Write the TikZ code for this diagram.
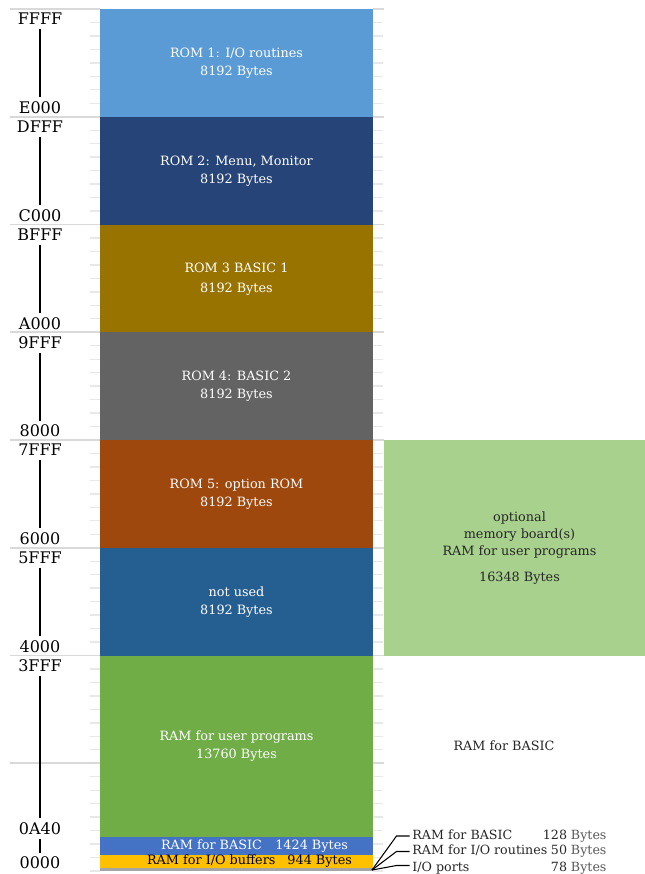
\documentclass[tikz,border=0pt]{standalone}
\usepackage{fontspec}
\setmainfont{DejaVu Serif}
\usetikzlibrary{calc}
\definecolor{romA}{HTML}{5B9BD5}
\definecolor{romB}{HTML}{264478}
\definecolor{romC}{HTML}{997300}
\definecolor{romD}{HTML}{636363}
\definecolor{romE}{HTML}{9E480E}
\definecolor{unused}{HTML}{255E91}
\definecolor{ramuser}{HTML}{70AD47}
\definecolor{rambasic}{HTML}{4472C4}
\definecolor{iobuf}{HTML}{FFC000}
\definecolor{optram}{HTML}{A9D18E}
\definecolor{iogray}{HTML}{A5A5A5}
\definecolor{gridmaj}{HTML}{D9D9D9}
\definecolor{gridmin}{HTML}{E8E8E8}
\definecolor{txtdark}{HTML}{262626}
\definecolor{txtgray}{HTML}{595959}
\tikzset{
  majline/.style={draw=gridmaj, line width=1.4pt},
  minline/.style={draw=gridmin, line width=1pt},
  blocktxt/.style={text=white, align=center, font=\fontsize{9.6}{13.5}\selectfont, inner sep=0pt},
  axl/.style={text=black, font=\fontsize{12}{12}\selectfont, inner sep=3pt},
  axline/.style={draw=black, line width=1.1pt},
  sidelbl/.style={text=txtdark, font=\fontsize{9.5}{12}\selectfont, text height=7pt, text depth=0pt, inner sep=2pt},
  leader/.style={draw=black, line width=0.8pt}
}
\begin{document}
\begin{tikzpicture}[x=0.75pt, y=-0.75pt]
\useasboundingbox (0,0) rectangle (645,874);
% grid: minor ticks
\foreach \i in {0,...,64} {
  \pgfmathsetmacro\yy{9+\i*13.46875}
  \draw[minline] (90,\yy) -- (100,\yy);
  \draw[minline] (373,\yy) -- (383,\yy);
}
% grid: major lines
\foreach \i in {0,...,7} {
  \pgfmathsetmacro\yy{9+\i*107.75}
  \draw[majline] (10,\yy) -- (100,\yy);
  \draw[majline] (373,\yy) -- (384,\yy);
}
% memory blocks
\fill[romA] (100,9) rectangle (373,116.75);
\fill[romB] (100,116.75) rectangle (373,224.5);
\fill[romC] (100,224.5) rectangle (373,332.25);
\fill[romD] (100,332.25) rectangle (373,440);
\fill[romE] (100,440) rectangle (373,547.75);
\fill[unused] (100,547.75) rectangle (373,655.5);
\fill[ramuser] (100,655.5) rectangle (373,836.5);
\fill[rambasic] (100,836.5) rectangle (373,855.3);
\fill[iobuf] (100,855.3) rectangle (373,867.6);
\fill[iogray] (100,867.6) rectangle (373,871);
\fill[optram] (384,440) rectangle (650,655.5);
% block texts
\node[blocktxt] (t1) at (236.5,63.5) {ROM 1: I/O routines\\8192 Bytes};
\node[blocktxt] (t2) at (236.5,171.5) {ROM 2: Menu, Monitor\\8192 Bytes};
\node[blocktxt, font=\fontsize{9.6}{15}\selectfont] (t3) at (236.5,279) {ROM 3 BASIC 1\\8192 Bytes};
\node[blocktxt] (t4) at (236.5,386.5) {ROM 4: BASIC 2\\8192 Bytes};
\node[blocktxt] (t5) at (236.5,494) {ROM 5: option ROM\\8192 Bytes};
\node[blocktxt] (t6) at (236.5,602) {not used\\8192 Bytes};
\node[blocktxt] (t7) at (236.5,746.5) {RAM for user programs\\13760 Bytes};
\node[blocktxt] (t8) at (254.5,846) {RAM for BASIC\hspace{10pt}1424 Bytes};
\node[blocktxt, text=black] (t9) at (249.5,861.5) {RAM for I/O buffers\hspace{9pt}944 Bytes};
\node[blocktxt, text=txtdark, font=\fontsize{9.6}{12.75}\selectfont] (t10) at (519.5,548.5) {optional\\memory board(s)\\RAM for user programs\\[6.75pt]16348 Bytes};
\node[blocktxt, text=txtdark] (t11) at (504,745.5) {RAM for BASIC};
% axis labels
\node[axl] (aFFFF) at (40,18.5) {FFFF};
\node[axl] (aE000) at (40,107.75) {E000};
\node[axl] (aDFFF) at (40,126.75) {DFFF};
\node[axl] (aC000) at (40,215.5) {C000};
\node[axl] (aBFFF) at (40,234.5) {BFFF};
\node[axl] (aA000) at (40,323.25) {A000};
\node[axl] (a9FFF) at (40,342.25) {9FFF};
\node[axl] (a8000) at (40,431) {8000};
\node[axl] (a7FFF) at (40,450) {7FFF};
\node[axl] (a6000) at (40,538.75) {6000};
\node[axl] (a5FFF) at (40,557.75) {5FFF};
\node[axl] (a4000) at (40,646.5) {4000};
\node[axl] (a3FFF) at (40,666) {3FFF};
\node[axl] (a0A40) at (40,828.5) {0A40};
\node[axl] (a0000) at (40,863) {0000};
\draw[axline] (aFFFF.south) -- (aE000.north);
\draw[axline] (aDFFF.south) -- (aC000.north);
\draw[axline] (aBFFF.south) -- (aA000.north);
\draw[axline] (a9FFF.south) -- (a8000.north);
\draw[axline] (a7FFF.south) -- (a6000.north);
\draw[axline] (a5FFF.south) -- (a4000.north);
\draw[axline] (a3FFF.south) -- (a0A40.north);
\draw[axline] (a0A40.south) -- (a0000.north);
% small regions at the bottom
\coordinate (src) at (372,870);
\node[sidelbl, anchor=west] (l1) at (409.5,834.5) {RAM for BASIC};
\node[sidelbl, anchor=west] (l2) at (409.5,850) {RAM for I/O routines};
\node[sidelbl, anchor=west] (l3) at (409.5,866.5) {I/O ports};
\node[sidelbl, anchor=east] (n1) at (570,834.5) {128};
\node[sidelbl, anchor=east] (n2) at (570,850) {50};
\node[sidelbl, anchor=east] (n3) at (570,866.5) {78};
\node[sidelbl, anchor=west, text=txtgray] (b1) at (568,834.5) {Bytes};
\node[sidelbl, anchor=west, text=txtgray] (b2) at (568,850) {Bytes};
\node[sidelbl, anchor=west, text=txtgray] (b3) at (568,866.5) {Bytes};
\draw[leader] (src) -- ($(l1.west)+(-13,1.5)$) -- ($(l1.west)+(0,1.5)$);
\draw[leader] (src) -- ($(l2.west)+(-13,1.5)$) -- ($(l2.west)+(0,1.5)$);
\draw[leader] (src) -- ($(l3.west)+(-13,-1)$) -- ($(l3.west)+(0,-1)$);
\end{tikzpicture}
\end{document}
